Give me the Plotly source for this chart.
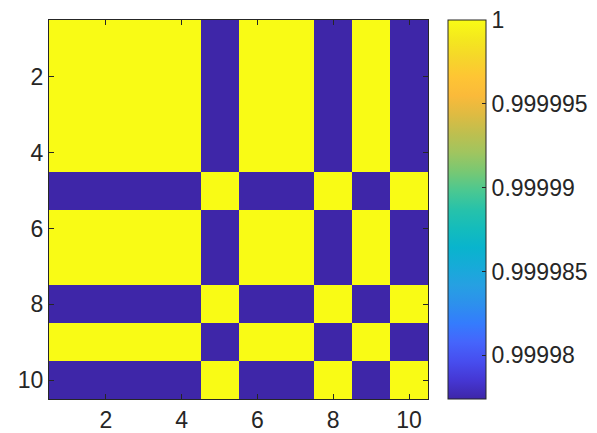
import plotly.graph_objects as go

# Data
idx = [1, 2, 3, 4, 5, 6, 7, 8, 9, 10]
hi = 1.0
lo = 0.9999774
Z = [
    [hi, hi, hi, hi, lo, hi, hi, lo, hi, lo],
    [hi, hi, hi, hi, lo, hi, hi, lo, hi, lo],
    [hi, hi, hi, hi, lo, hi, hi, lo, hi, lo],
    [hi, hi, hi, hi, lo, hi, hi, lo, hi, lo],
    [lo, lo, lo, lo, hi, lo, lo, hi, lo, hi],
    [hi, hi, hi, hi, lo, hi, hi, lo, hi, lo],
    [hi, hi, hi, hi, lo, hi, hi, lo, hi, lo],
    [lo, lo, lo, lo, hi, lo, lo, hi, lo, hi],
    [hi, hi, hi, hi, lo, hi, hi, lo, hi, lo],
    [lo, lo, lo, lo, hi, lo, lo, hi, lo, hi],
]
axis_ticks = [2, 4, 6, 8, 10]
cbar_ticks = [0.99998, 0.999985, 0.99999, 0.999995, 1.0]
cbar_text = ["0.99998", "0.999985", "0.99999", "0.999995", "1"]

parula = [
    [0.00, "rgb(62,38,168)"],
    [0.05, "rgb(69,55,212)"],
    [0.10, "rgb(71,78,239)"],
    [0.15, "rgb(69,101,252)"],
    [0.20, "rgb(52,124,253)"],
    [0.25, "rgb(45,144,237)"],
    [0.30, "rgb(38,160,226)"],
    [0.35, "rgb(22,171,216)"],
    [0.40, "rgb(9,180,205)"],
    [0.45, "rgb(20,188,188)"],
    [0.50, "rgb(39,194,170)"],
    [0.55, "rgb(75,200,145)"],
    [0.60, "rgb(120,200,115)"],
    [0.65, "rgb(160,197,95)"],
    [0.70, "rgb(190,191,79)"],
    [0.75, "rgb(222,187,66)"],
    [0.80, "rgb(250,186,58)"],
    [0.85, "rgb(254,197,52)"],
    [0.90, "rgb(246,214,42)"],
    [0.95, "rgb(244,232,30)"],
    [1.00, "rgb(249,251,21)"],
]

TXT = "#262626"
FONT = dict(family="Liberation Sans, Arial, sans-serif", size=23, color=TXT)

fig = go.Figure(
    go.Heatmap(
        x=idx,
        y=idx,
        z=Z,
        zmin=lo,
        zmax=hi,
        colorscale=parula,
        colorbar=dict(
            x=(448 - 49) / 379,
            xanchor="left",
            xpad=0,
            ypad=0,
            y=0.5,
            len=1,
            lenmode="fraction",
            thickness=38,
            thicknessmode="pixels",
            outlinecolor=TXT,
            outlinewidth=1,
            ticks="inside",
            ticklen=4,
            tickcolor=TXT,
            tickvals=cbar_ticks,
            ticktext=cbar_text,
            tickfont=FONT,
        ),
    )
)

common = dict(
    tickvals=axis_ticks,
    ticks="inside",
    ticklen=5,
    tickcolor=TXT,
    showline=True,
    linecolor=TXT,
    linewidth=1,
    mirror="ticks",
    showgrid=False,
    zeroline=False,
    tickfont=FONT,
    automargin=False,
)
fig.update_xaxes(range=[0.5, 10.5], **common)
fig.update_yaxes(range=[10.5, 0.5], **common)

fig.update_layout(
    width=597,
    height=433,
    margin=dict(l=49, r=169, t=20, b=34, autoexpand=False),
    paper_bgcolor="white",
    plot_bgcolor="white",
    font=FONT,
)

fig.write_html("out.html")
